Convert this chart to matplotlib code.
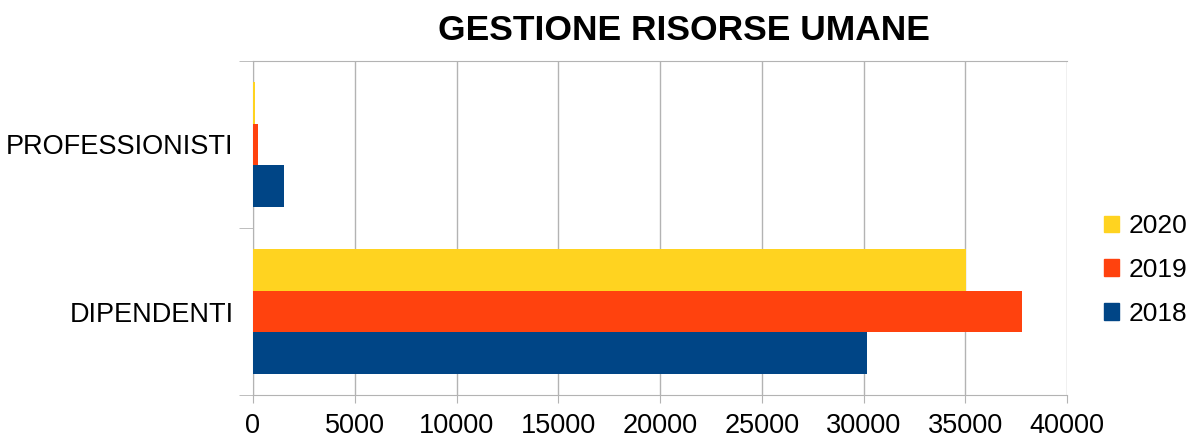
import matplotlib.pyplot as plt
import numpy as np
from matplotlib.patches import Patch

plt.rcParams['font.family'] = ['Liberation Sans', 'DejaVu Sans']

# Data
categories = ['DIPENDENTI', 'PROFESSIONISTI']
years = ['2018', '2019', '2020']
values_2018 = [30170, 1500]
values_2019 = [37800, 270]
values_2020 = [35060, 100]
colors = ['#004586', '#ff420e', '#ffd320']

fig = plt.figure(figsize=(11.89, 4.42), dpi=100)
ax = fig.add_axes([253 / 1189, 47 / 442, 814 / 1189, 334 / 442])

y = np.arange(len(categories))
h = 0.25
for i, (vals, col) in enumerate(zip([values_2018, values_2019, values_2020], colors)):
    ax.barh(y + (i - 1) * h, vals, height=h, color=col, zorder=3)

ax.set_xlim(0, 40000)
ax.set_ylim(-0.5, 1.5)
ax.set_xticks(np.arange(0, 40001, 5000))
ax.set_yticks(y)
ax.set_yticklabels(categories)
ax.set_yticks([-0.5, 0.5, 1.5], minor=True)
ax.tick_params(axis='y', which='major', length=0, pad=14, labelsize=19.5)
ax.tick_params(axis='y', which='minor', length=10, color='#b3b3b3')
ax.tick_params(axis='x', length=6, color='#b3b3b3', pad=7, labelsize=19.5)
ax.grid(axis='x', color='#b3b3b3', linewidth=1, zorder=0)
for s in ax.spines.values():
    s.set_color('#b3b3b3')
ax.spines['right'].set_visible(False)

fig.text(684 / 1189, 1 - 31 / 442, 'GESTIONE RISORSE UMANE', ha='center', va='center',
         fontsize=25.5, fontweight='bold')

handles = [Patch(color=c, label=l) for c, l in zip(colors[::-1], years[::-1])]
fig.legend(handles=handles, loc='center left', bbox_to_anchor=(1093 / 1189, 1 - 270 / 442),
           frameon=False, fontsize=19, handlelength=0.6, handleheight=0.6,
           handletextpad=0.35, labelspacing=0.75, borderaxespad=0)

fig.savefig('out.png', dpi=100)
